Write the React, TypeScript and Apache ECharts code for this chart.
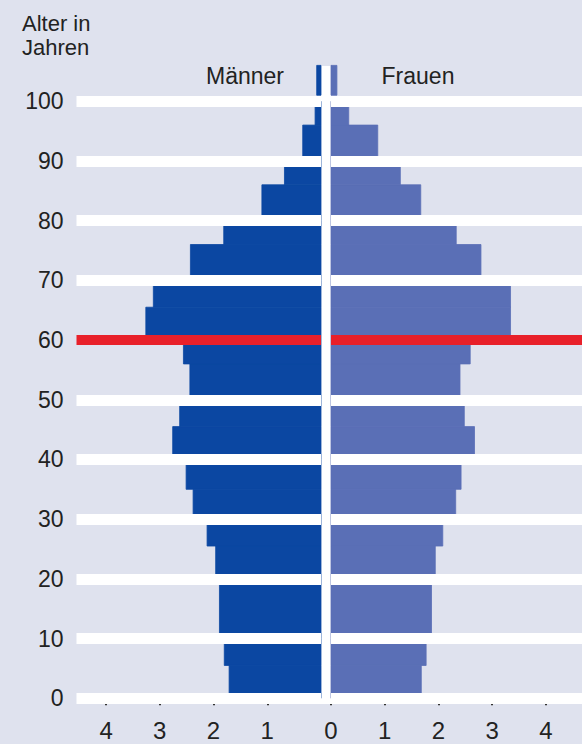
import React, { useEffect, useRef } from "react";
import * as echarts from "echarts";

// Age groups (years) — lower and upper bound of each bar
const ageFrom = [0, 5.5, 10, 20, 25.5, 30, 35, 40, 45.5, 50, 56, 60, 65.5, 70, 76, 80, 86, 90, 96, 101];
const ageTo = [5.5, 10, 20, 25.5, 30, 35, 40, 45.5, 50, 56, 60, 65.5, 70, 76, 80, 86, 90, 96, 100, 106];
// Share of population per group (Männer / Frauen)
const maleValues = [1.71, 1.8, 1.89, 1.96, 2.12, 2.38, 2.51, 2.76, 2.63, 2.44, 2.56, 3.26, 3.12, 2.43, 1.81, 1.1, 0.68, 0.34, 0.11, 0.08];
const femaleValues = [1.68, 1.77, 1.87, 1.94, 2.08, 2.32, 2.42, 2.67, 2.48, 2.4, 2.59, 3.34, 3.34, 2.79, 2.33, 1.67, 1.29, 0.87, 0.33, 0.11];

const decadeLines = [0, 10, 20, 30, 40, 50, 60, 70, 80, 90, 100];
const highlightAge = 60;
const yTickLabels = [0, 10, 20, 30, 40, 50, 60, 70, 80, 90, 100];
const xTicksLeft = [1, 2, 3, 4];
const xTicksRight = [0, 1, 2, 3, 4];
const titleLines = ["Alter in", "Jahren"];

const FONT = '"Liberation Sans", Arial, Helvetica, sans-serif';
const BG = "#dfe2ee";
const MALE = "#0b47a2";
const FEMALE = "#5a6fb6";
const RED = "#e8202a";
const TEXT = "#222222";

function renderBar(color: string) {
  return (_params: any, api: any) => {
    const from = api.value(0);
    const to = api.value(1);
    const v = api.value(2);
    const a = api.coord([0, to]);
    const b = api.coord([v, from]);
    return {
      type: "rect",
      shape: {
        x: Math.min(a[0], b[0]),
        y: Math.min(a[1], b[1]),
        width: Math.abs(a[0] - b[0]),
        height: Math.abs(a[1] - b[1]),
      },
      style: { fill: color, stroke: color, lineWidth: 0.8 },
    };
  };
}

const markLines = {
  silent: true,
  symbol: "none",
  animation: false,
  label: { show: false },
  z: 5,
  data: decadeLines.map((a) => ({
    yAxis: a,
    lineStyle: {
      color: a === highlightAge ? RED : "#ffffff",
      width: a === highlightAge ? 10 : 11,
      type: "solid",
    },
  })),
};

export default function App() {
  const ref = useRef<HTMLDivElement>(null);
  useEffect(() => {
    if (!ref.current) return;
    const chart = echarts.init(ref.current, null, { renderer: "svg" });
    const maleData = ageFrom.map((f, i) => [f, ageTo[i], maleValues[i]]);
    const femaleData = ageFrom.map((f, i) => [f, ageTo[i], femaleValues[i]]);
    const axisTick = { show: true, length: 7, lineStyle: { color: "#333", width: 2 } };
    const xLabel = { fontSize: 24, color: TEXT, fontFamily: FONT, margin: 6 };
    chart.setOption({
      animation: false,
      backgroundColor: BG,
      textStyle: { fontFamily: FONT },
      grid: [
        { left: 76.5, width: 244.5, top: 41.5, bottom: 45.7 },
        { left: 331, right: 0, top: 41.5, bottom: 45.7 },
      ],
      xAxis: [
        {
          gridIndex: 0,
          type: "value",
          inverse: true,
          min: 0,
          max: 4.55,
          offset: 14.5,
          axisLine: { show: false },
          splitLine: { show: false },
          axisTick: { ...axisTick, customValues: xTicksLeft },
          axisLabel: { ...xLabel, customValues: xTicksLeft },
        },
        {
          gridIndex: 1,
          type: "value",
          min: 0,
          max: 4.67,
          offset: 14.5,
          axisLine: { show: false },
          splitLine: { show: false },
          axisTick: { ...axisTick, customValues: xTicksRight },
          axisLabel: { ...xLabel, customValues: xTicksRight },
        },
      ],
      yAxis: [
        {
          gridIndex: 0,
          type: "value",
          min: 0,
          max: 110,
          interval: 10,
          axisLine: { show: false },
          axisTick: { show: false },
          splitLine: { show: false },
          axisLabel: {
            customValues: yTickLabels,
            fontSize: 23,
            color: TEXT,
            fontFamily: FONT,
            margin: 13,
          },
        },
        {
          gridIndex: 1,
          type: "value",
          min: 0,
          max: 110,
          interval: 10,
          show: false,
          splitLine: { show: false },
        },
      ],
      graphic: [
        {
          type: "rect",
          z: 1,
          shape: { x: 321, y: 66, width: 10, height: 638 },
          style: { fill: "#ffffff" },
          silent: true,
        },
        ...titleLines.map((t, i) => ({
          type: "text",
          left: 22,
          top: 12 + i * 24,
          style: {
            text: t,
            fontSize: 22,
            fill: TEXT,
            fontFamily: FONT,
          },
        })),
        {
          type: "text",
          x: 245,
          y: 76,
          style: {
            text: "Männer",
            fontSize: 23,
            fill: TEXT,
            fontFamily: FONT,
            align: "center",
            verticalAlign: "middle",
          },
        },
        {
          type: "text",
          x: 418,
          y: 76,
          style: {
            text: "Frauen",
            fontSize: 23,
            fill: TEXT,
            fontFamily: FONT,
            align: "center",
            verticalAlign: "middle",
          },
        },
      ],
      series: [
        {
          name: "Männer",
          type: "custom",
          xAxisIndex: 0,
          yAxisIndex: 0,
          encode: { x: 2, y: [0, 1] },
          renderItem: renderBar(MALE),
          data: maleData,
          markLine: markLines,
        },
        {
          name: "Frauen",
          type: "custom",
          xAxisIndex: 1,
          yAxisIndex: 1,
          encode: { x: 2, y: [0, 1] },
          renderItem: renderBar(FEMALE),
          data: femaleData,
          markLine: markLines,
        },
      ],
    });
    return () => chart.dispose();
  }, []);
  return (
    <div
      ref={ref}
      style={{ position: "fixed", left: 0, top: 0, width: 582, height: 744 }}
    />
  );
}
